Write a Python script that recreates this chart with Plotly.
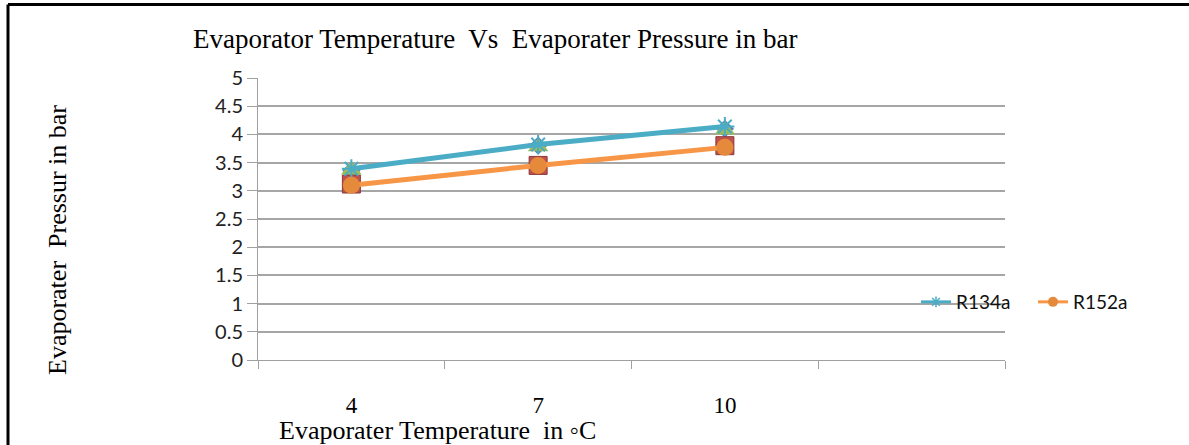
import plotly.graph_objects as go

categories = ["4", "7", "10", ""]
r134a = [3.39, 3.82, 4.14]
r152a = [3.10, 3.45, 3.77]
hidden_diamond = [3.36, 3.80, 4.10]
hidden_square = [3.12, 3.45, 3.80]
hidden_triangle = [3.37, 3.78, 4.08]
y_ticks = [0, 0.5, 1, 1.5, 2, 2.5, 3, 3.5, 4, 4.5, 5]
y_tick_text = ["0", "0.5", "1", "1.5", "2", "2.5", "3", "3.5", "4", "4.5", "5"]

xs = list(range(len(r134a)))

W, H = 1189, 445
L, R, T, B = 258, 1005, 78, 360
pw, ph = R - L, B - T

def px_x(p):
    return (p - L) / pw

def px_y(p):
    return (B - p) / ph

fig = go.Figure()

fig.add_trace(go.Scatter(x=xs, y=hidden_diamond, mode="markers", showlegend=False,
                         marker=dict(symbol="diamond", size=14, color="#4F81BD")))
fig.add_trace(go.Scatter(x=xs, y=hidden_square, mode="markers", showlegend=False,
                         marker=dict(symbol="square", size=18, color="#C0504D",
                                     line=dict(color="#8B3A38", width=1))))
fig.add_trace(go.Scatter(x=xs, y=hidden_triangle, mode="markers", showlegend=False,
                         marker=dict(symbol="triangle-up", size=18, color="#9BBB59")))
fig.add_trace(go.Scatter(x=xs, y=r134a, mode="lines+markers", name="R134a", showlegend=False,
                         line=dict(color="#4BACC6", width=5),
                         marker=dict(symbol="asterisk-open", size=16,
                                     line=dict(color="#7CC6DA", width=2))))
fig.add_trace(go.Scatter(x=xs, y=r152a, mode="lines+markers", name="R152a", showlegend=False,
                         line=dict(color="#F79646", width=5),
                         marker=dict(symbol="circle", size=17, color="#E58A3A")))

# legend entries with small markers as in the reference
fig.add_trace(go.Scatter(x=[None], y=[None], mode="lines+markers", name="R134a",
                         line=dict(color="#4BACC6", width=3),
                         marker=dict(symbol="asterisk-open", size=9,
                                     line=dict(color="#4BACC6", width=1.5))))
fig.add_trace(go.Scatter(x=[None], y=[None], mode="lines+markers", name="R152a",
                         line=dict(color="#F79646", width=3),
                         marker=dict(symbol="circle", size=10, color="#E58A3A")))

fig.update_layout(
    width=W, height=H,
    margin=dict(l=L, r=W - R, t=T, b=H - B, autoexpand=False),
    paper_bgcolor="white", plot_bgcolor="white",
    showlegend=True,
    legend=dict(orientation="h", x=px_x(916), y=px_y(302), xanchor="left", yanchor="middle",
                bgcolor="rgba(0,0,0,0)", font=dict(family="Lato", size=19, color="#111"),
                entrywidth=72, tracegroupgap=0),
    title=dict(text="Evaporator Temperature  Vs  Evaporater Pressure in bar",
               x=193 / W, xanchor="left", xref="container",
               y=1 - 39 / H, yanchor="middle",
               font=dict(family="Liberation Serif", size=27, color="black")),
    xaxis=dict(range=[-0.5, 3.5], tickmode="array", tickvals=list(range(len(categories))),
               ticktext=categories, ticks="", showgrid=False, zeroline=False,
               showline=True, linecolor="#A0A0A0", linewidth=1,
               ticklabelstandoff=24,
               tickfont=dict(family="Liberation Serif", size=23, color="black"),
               minor=dict(tickmode="array", tickvals=[-0.5, 0.5, 1.5, 2.5, 3.5],
                          ticks="outside", ticklen=8, tickcolor="#A0A0A0", tickwidth=1,
                          showgrid=False)),
    yaxis=dict(range=[0, 5], tickmode="array", tickvals=y_ticks, ticktext=y_tick_text,
               ticks="outside", ticklen=10, tickcolor="#A0A0A0",
               showgrid=True, gridcolor="#A6A6A6", gridwidth=1.5,
               zeroline=False, showline=True, linecolor="#A0A0A0", linewidth=1,
               tickfont=dict(family="Lato", size=20, color="#222")),
    annotations=[
        dict(text="Evaporater  Pressur in bar", xref="paper", yref="paper",
             x=px_x(57), y=px_y(240), textangle=-90, showarrow=False,
             xanchor="center", yanchor="middle",
             font=dict(family="Liberation Serif", size=26, color="black")),
        dict(text="Evaporater Temperature  in \u25e6C", xref="paper", yref="paper",
             x=px_x(277), y=px_y(430), showarrow=False, xanchor="left", yanchor="middle",
             font=dict(family="Liberation Serif", size=26, color="black")),
    ],
    shapes=[
        dict(type="line", xref="paper", yref="paper", x0=px_x(8), x1=px_x(1189),
             y0=px_y(4.5), y1=px_y(4.5), line=dict(color="black", width=3)),
        dict(type="line", xref="paper", yref="paper", x0=px_x(8), x1=px_x(8),
             y0=px_y(4.5), y1=px_y(445), line=dict(color="black", width=3)),
    ],
)

fig.write_html("out.html")
